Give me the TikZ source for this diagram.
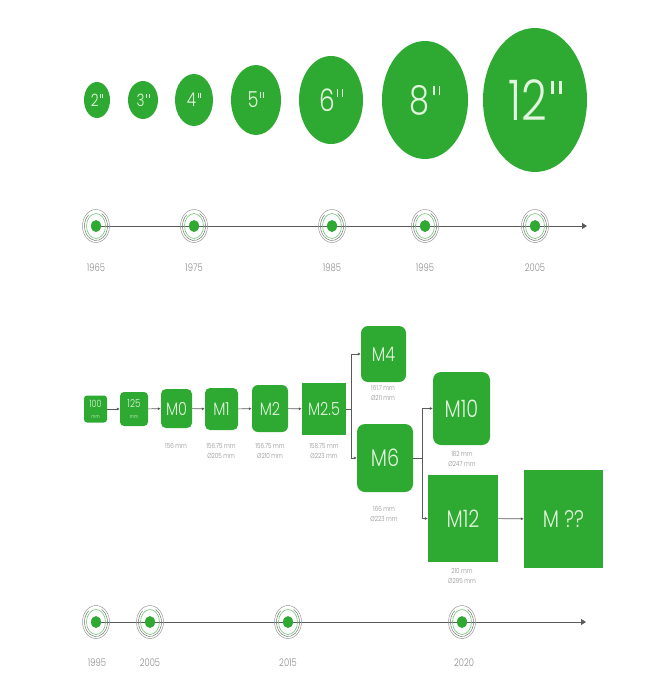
\documentclass[tikz,border=0pt]{standalone}
\usepackage{fontspec}
\setmainfont{Poppins Light}[FakeStretch=0.8]
\usetikzlibrary{arrows.meta,shapes.geometric}
\definecolor{gr}{RGB}{46,170,51}
\definecolor{lbl}{RGB}{140,140,140}
\definecolor{ln}{RGB}{90,90,90}
\definecolor{txt}{RGB}{226,245,222}
\newcommand\inch{\kern0.08em\rule[0.47em]{0.045em}{0.24em}\kern0.1em\rule[0.47em]{0.045em}{0.24em}}
\tikzset{
  disk/.style={ellipse,fill=gr,text=txt,inner sep=0pt},
  gbox/.style={rectangle,fill=gr,text=txt,inner sep=0pt,align=center},
  capt/.style={text=lbl,font=\fontsize{7}{9.5}\selectfont,align=center,inner sep=0pt},
  year/.style={text=lbl,font=\fontsize{10.5}{12}\selectfont,inner sep=0pt},
  conn/.style={draw=ln,line width=0.6pt},
  arr/.style={conn,-{Latex[length=3pt,width=3pt]}},
  axis/.style={draw=ln,line width=0.8pt,-{Triangle[length=5pt,width=6pt]}},
  tmark/.pic={
    \draw[gray!80,line width=0.5pt] (0,0) ellipse [x radius=13.5, y radius=16.5];
    \draw[gray!90!black,line width=0.5pt] (0,0) ++(-60:11.5 and 14.5) arc [start angle=-60, end angle=230, x radius=11.5, y radius=14.5];
    \draw[gr!70,line width=0.6pt] (0,0) ellipse [x radius=9.5, y radius=12.5];
    \fill[gr] (0,0) ellipse [x radius=5, y radius=6];
  }
}
\begin{document}
\begin{tikzpicture}[x=1pt,y=-1pt]
\useasboundingbox (0,0) rectangle (672,691);
% top disks
\node[disk,minimum width=26pt,minimum height=36pt,font=\fontsize{17}{17}\selectfont] (d2) at (97,100) {2\inch};
\node[disk,minimum width=30pt,minimum height=38pt,font=\fontsize{17}{17}\selectfont] (d3) at (143,100) {3\inch};
\node[disk,minimum width=38pt,minimum height=52pt,font=\fontsize{19}{19}\selectfont] (d4) at (194,100) {4\inch};
\node[disk,minimum width=50pt,minimum height=70pt,font=\fontsize{22}{22}\selectfont] (d5) at (256,100) {5\inch};
\node[disk,minimum width=64pt,minimum height=88pt,font=\fontsize{31}{31}\selectfont] (d6) at (331,100) {6\inch};
\node[disk,minimum width=86pt,minimum height=118pt,font=\fontsize{40}{40}\selectfont] (d8) at (425,100) {8\inch};
\node[disk,minimum width=104pt,minimum height=144pt,font=\fontsize{56}{56}\selectfont] (d12) at (535,100) {12\inch};
% timeline 1
\coordinate (a1s) at (96,226);
\coordinate (a1e) at (587,226);
\draw[axis] (a1s) -- (a1e);
\pic (t65) at (96,226) {tmark};
\pic (t75) at (194,226) {tmark};
\pic (t85) at (332,226) {tmark};
\pic (t95) at (425,226) {tmark};
\pic (t05) at (535,226) {tmark};
\node[year] (y65) at (96,268) {1965};
\node[year] (y75) at (194,268) {1975};
\node[year] (y85) at (332,268) {1985};
\node[year] (y95) at (425,268) {1995};
\node[year] (y05) at (535,268) {2005};
% boxes
\node[gbox,minimum width=23pt,minimum height=27pt,rounded corners=3pt] (b100) at (95.5,409) {\fontsize{10}{8}\selectfont 100\\[-1pt]\fontsize{5}{5}\selectfont mm};
\node[gbox,minimum width=28pt,minimum height=34pt,rounded corners=4pt] (b125) at (134,409) {\fontsize{11}{8}\selectfont 125\\[-1pt]\fontsize{5}{5}\selectfont mm};
\node[gbox,minimum width=31pt,minimum height=39pt,rounded corners=5pt,font=\fontsize{18}{18}\selectfont] (m0) at (176.5,408.5) {M0};
\node[gbox,minimum width=33pt,minimum height=42pt,rounded corners=5pt,font=\fontsize{18}{18}\selectfont] (m1) at (221.5,409) {M1};
\node[gbox,minimum width=36pt,minimum height=47pt,rounded corners=6pt,font=\fontsize{18}{18}\selectfont] (m2) at (270,408.5) {M2};
\node[gbox,minimum width=44pt,minimum height=52pt,font=\fontsize{18}{18}\selectfont] (m25) at (324,409) {M2.5};
\node[gbox,minimum width=45pt,minimum height=56pt,rounded corners=7pt,font=\fontsize{20}{20}\selectfont] (m4) at (383.5,354) {M4};
\node[gbox,minimum width=56pt,minimum height=68pt,rounded corners=8pt,font=\fontsize{24}{24}\selectfont] (m6) at (385,458) {M6};
\node[gbox,minimum width=57pt,minimum height=73pt,rounded corners=8pt,font=\fontsize{24}{24}\selectfont] (m10) at (461.5,408.5) {M10};
\node[gbox,minimum width=70pt,minimum height=87pt,font=\fontsize{24}{24}\selectfont] (m12) at (463,518.5) {M12};
\node[gbox,minimum width=79pt,minimum height=98pt,font=\fontsize{24}{24}\selectfont] (mqq) at (563.5,519) {M ??};
% captions
\node[capt] (c0) at (176,446) {156 mm};
\node[capt] (c1) at (221,451) {156.75 mm\\Ø205 mm};
\node[capt] (c2) at (270,451) {156.75 mm\\Ø210 mm};
\node[capt] (c25) at (324,451) {158.75 mm\\Ø223 mm};
\node[capt] (c4) at (383,393) {161.7 mm\\Ø211 mm};
\node[capt] (c10) at (462,459) {182 mm\\Ø247 mm};
\node[capt] (c6) at (384,514) {166 mm\\Ø223 mm};
\node[capt] (c12) at (462,576) {210 mm\\Ø295 mm};
% connectors
\draw[arr] (b100) -- (b125);
\draw[arr] (b125) -- (m0);
\draw[arr] (m0) -- (m1);
\draw[arr] (m1) -- (m2);
\draw[arr] (m2) -- (m25);
\coordinate (j1) at (351,409);
\draw[conn] (m25) -- (j1);
\draw[arr] (j1) |- (m4);
\draw[arr] (j1) |- (m6);
\coordinate (j2) at (422,458);
\draw[conn] (m6) -- (j2);
\draw[arr] (j2) |- (m10);
\draw[arr] (j2) |- (m12);
\draw[arr] (m12) -- (mqq);
% timeline 2
\coordinate (a2s) at (96,622);
\coordinate (a2e) at (586,622);
\draw[axis] (a2s) -- (a2e);
\pic (u95) at (96,622) {tmark};
\pic (u05) at (150,622) {tmark};
\pic (u15) at (288,622) {tmark};
\pic (u20) at (462,622) {tmark};
\node[year] (z95) at (97,663) {1995};
\node[year] (z05) at (150,663) {2005};
\node[year] (z15) at (288,663) {2015};
\node[year] (z20) at (464,663) {2020};
\end{tikzpicture}
\end{document}
